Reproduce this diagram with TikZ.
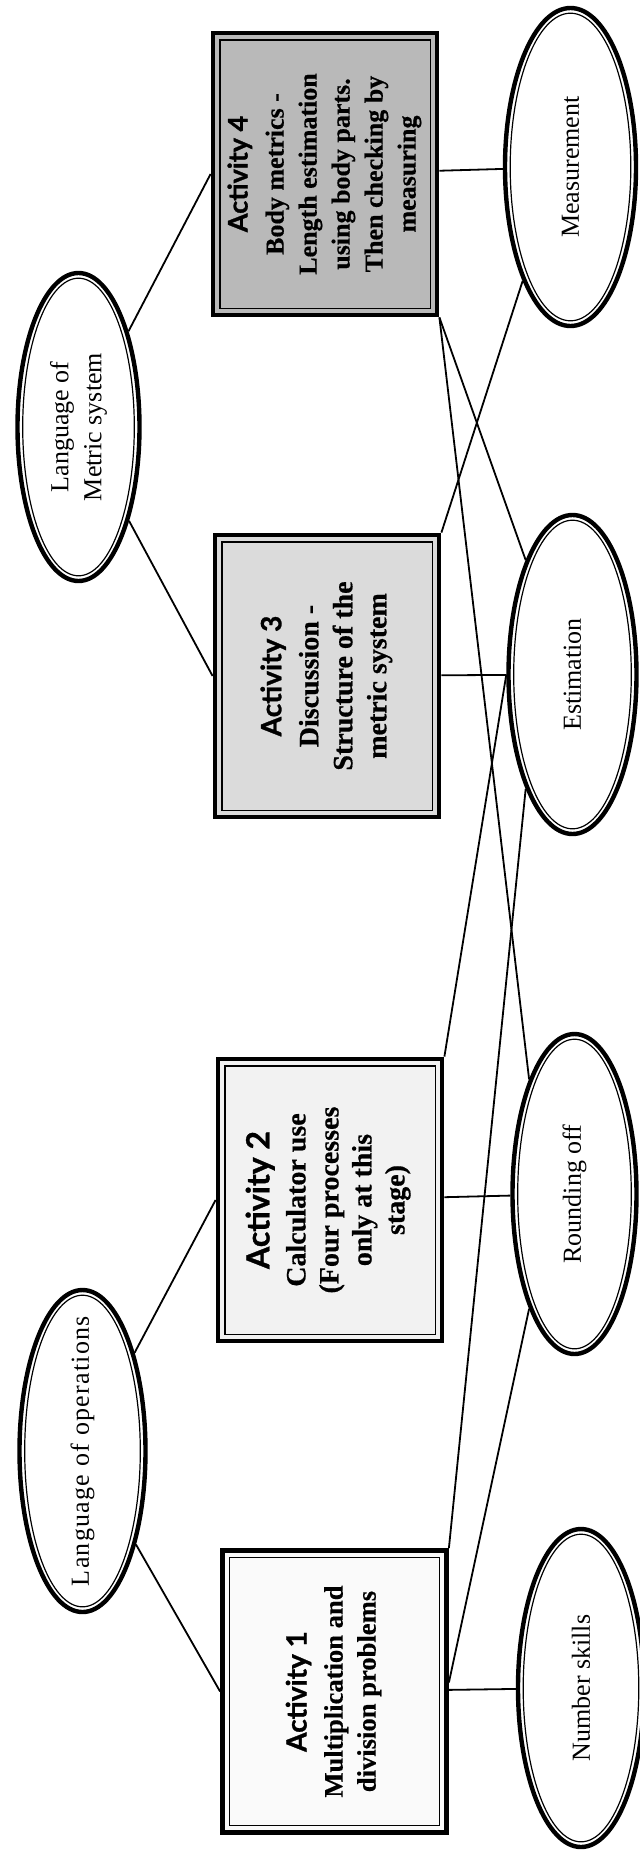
\documentclass[tikz,border=0pt]{standalone}
\usepackage{graphicx}
\usepackage{fontspec}
\setmainfont{Liberation Serif}
\newfontfamily\headfont{Lato}
\usetikzlibrary{shapes.geometric,calc,backgrounds}

% rotated, centred block of lines: heading in heavy sans, body in bold serif
\newcommand{\rottext}[3][14]{\rotatebox{90}{\begin{tabular}{@{}c@{}}%
  {\headfont\fontsize{#1}{16.5}\selectfont\addfontfeatures{FakeBold=1}#2}\\[1.5pt] #3\end{tabular}}}

\begin{document}
\begin{tikzpicture}[x=0.5pt,y=-0.5pt,
  link/.style={line width=0.9pt},
  activity/.style={rectangle, draw, line width=2.4pt, inner sep=0pt,
    minimum width=112pt, minimum height=141pt,
    font=\bfseries\fontsize{13}{16.5}\selectfont\addfontfeatures{FakeBold=0.5},
    path picture={\draw[line width=0.7pt]
      ([shift={(3.4pt,3.4pt)}]path picture bounding box.south west) rectangle
      ([shift={(-3.4pt,-3.4pt)}]path picture bounding box.north east);}},
  topic/.style={ellipse, draw, fill=white, line width=2.2pt, inner sep=0pt,
    path picture={\draw[line width=0.6pt]
      let \p1=(path picture bounding box.north east),
          \p2=(path picture bounding box.center) in
      (\p2) ellipse ({\x1-\x2-2.6pt} and {\y1-\y2-2.6pt});}},
  topiclabel/.style={rotate=90, align=center, font=\fontsize{13}{16.5}\selectfont},
]
\useasboundingbox (0,0) rectangle (639,1852);

% activity boxes
\node[activity, fill=gray!55] (a4) at (325,174)
  {\rottext[13.5]{Activity 4}{Body metrics -\\Length estimation\\using body parts.\\Then checking by\\measuring}};
\node[activity, fill=gray!28,
  font=\bfseries\fontsize{14}{17}\selectfont\addfontfeatures{FakeBold=0.5}] (a3) at (327,676)
  {\rottext[14]{Activity 3}{Discussion -\\Structure of the\\metric system}};
\node[activity, fill=gray!10,
  font=\bfseries\fontsize{14}{16.5}\selectfont\addfontfeatures{FakeBold=0.5}] (a2) at (330,1200)
  {\rottext[16]{Activity 2}{Calculator use\\(Four processes\\only at this\\stage)}};
\node[activity, fill=gray!4,
  font=\bfseries\fontsize{13.3}{16.5}\selectfont\addfontfeatures{FakeBold=0.5}] (a1) at (334.5,1691.5)
  {\rottext[14]{Activity 1}{Multiplication and\\division problems}};

% topics on the right
\node[topic, minimum width=65.5pt, minimum height=159pt,
  label={[topiclabel]center:Measurement}] (meas) at (570.5,167) {};
\node[topic, minimum width=64pt, minimum height=159.5pt,
  label={[topiclabel]center:Estimation}] (est) at (572.5,674.5) {};
\node[topic, minimum width=62pt, minimum height=160pt,
  label={[topiclabel]center:Rounding off}] (ro) at (574.5,1194) {};
\node[topic, minimum width=63pt, minimum height=159pt,
  label={[topiclabel]center:Number skills}] (ns) at (581,1688) {};

% language topics on the left
\node[topic, minimum width=61pt, minimum height=154pt,
  label={[topiclabel]center:{Language of\\Metric system}}] (lm) at (78.5,427) {};
\node[topic, minimum width=63pt, minimum height=161pt,
  label={[topiclabel, font=\fontsize{13}{16.5}\selectfont\addfontfeatures{LetterSpace=5}]center:Language of operations}] (lo) at (82.5,1451) {};

\begin{scope}[on background layer]
  \draw[link] (lm) -- (a4.west);
  \draw[link] (lm) -- (a3.west);
  \draw[link] (lo) -- (a2.west);
  \draw[link] (lo) -- (a1.west);
  \draw[link] (a4) -- (meas);
  \draw[link] (a3) -- (est);
  \draw[link] (a2) -- (ro);
  \draw[link] (a1) -- (ns);
  \draw[link] (a4.south east) -- (est.north west);
  \draw[link] (a4.south east) -- (ro.north west);
  \draw[link] (meas.south west) -- (a3.north east);
  \draw[link] (a2.north east) -- (est.west);
  \draw[link] (a1.north east) -- (est.south west);
  \draw[link] ([yshift=4.5pt]a1.east) -- (ro.south west);
\end{scope}
\end{tikzpicture}
\end{document}
